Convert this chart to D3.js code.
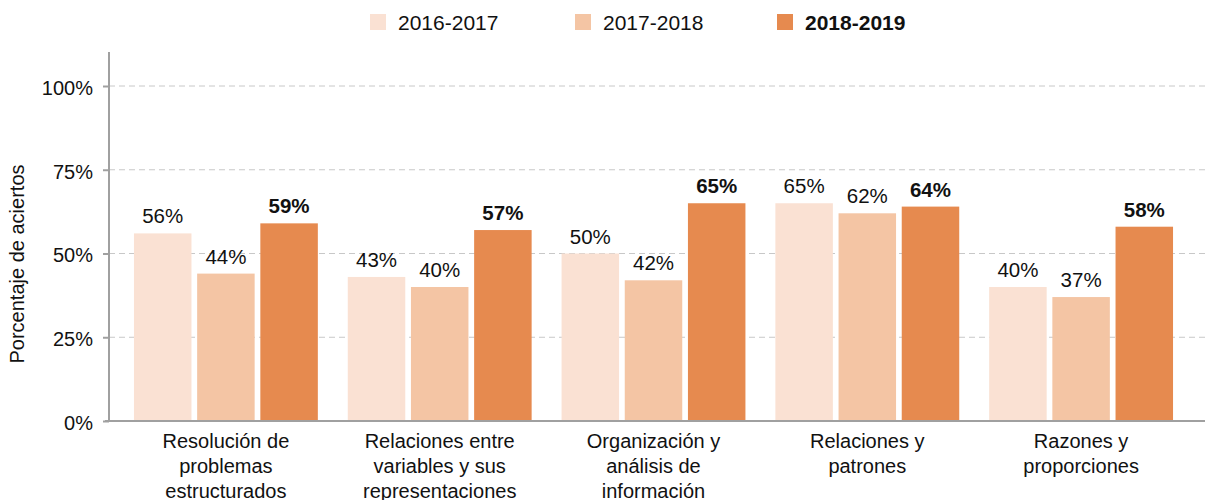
<!DOCTYPE html>
<html>
<head>
<meta charset="utf-8">
<script src="https://cdn.jsdelivr.net/npm/d3@7"></script>
<style>
  body { margin: 0; background: #fff; }
  text { font-family: "Liberation Sans", Arial, sans-serif; fill: #111; }
</style>
</head>
<body>
<div id="chart"></div>
<script>
var categories = [
    ['Resolución de', 'problemas', 'estructurados'],
    ['Relaciones entre', 'variables y sus', 'representaciones'],
    ['Organización y', 'análisis de', 'información'],
    ['Relaciones y', 'patrones'],
    ['Razones y', 'proporciones']
];
var series_names = ['2016-2017', '2017-2018', '2018-2019'];
var values_2016 = [56, 43, 50, 65, 40];
var values_2017 = [44, 40, 42, 62, 37];
var values_2018 = [59, 57, 65, 64, 58];
var y_ticks = [0, 25, 50, 75, 100];

var colors = ['#fae1d3', '#f4c5a4', '#e68a4f'];
var all_values = [values_2016, values_2017, values_2018];

var width = 1208, height = 500;
var axis_x = 109, axis_y = 421;

var svg = d3.select('#chart').append('svg')
    .attr('width', width)
    .attr('height', height);

// scales
var y_scale = d3.scaleLinear().domain([0, 110]).range([axis_y, axis_y - 368.5]);

var x0 = d3.scaleBand()
    .domain(d3.range(categories.length))
    .range([119, 1188])
    .paddingInner(0.14)
    .paddingOuter(0.07);

var x1 = d3.scaleBand()
    .domain(d3.range(series_names.length))
    .range([0, x0.bandwidth()])
    .paddingInner(0.09);

// grid
svg.append('g').selectAll('line')
    .data(y_ticks.filter(function(d) { return d > 0; }))
    .enter().append('line')
    .attr('x1', axis_x).attr('x2', 1205)
    .attr('y1', function(d) { return y_scale(d); })
    .attr('y2', function(d) { return y_scale(d); })
    .attr('stroke', '#c8c8c8')
    .attr('stroke-width', 1)
    .attr('stroke-dasharray', '6,4');

// bars
var groups = svg.selectAll('g.series')
    .data(all_values)
    .enter().append('g')
    .attr('class', 'series')
    .style('fill', function(d, i) { return colors[i]; });

groups.selectAll('rect')
    .data(function(d, i) { return d.map(function(v, j) { return {s: i, c: j, v: v}; }); })
    .enter().append('rect')
    .attr('x', function(d) { return x0(d.c) + x1(d.s); })
    .attr('y', function(d) { return y_scale(d.v); })
    .attr('width', x1.bandwidth())
    .attr('height', function(d) { return axis_y - y_scale(d.v); });

// value labels
groups.selectAll('text')
    .data(function(d, i) { return d.map(function(v, j) { return {s: i, c: j, v: v}; }); })
    .enter().append('text')
    .attr('x', function(d) { return x0(d.c) + x1(d.s) + x1.bandwidth() / 2; })
    .attr('y', function(d) { return y_scale(d.v) - 10; })
    .attr('text-anchor', 'middle')
    .style('font-size', '20.5px')
    .style('font-weight', function(d) { return d.s === 2 ? 'bold' : 'normal'; })
    .style('fill', '#111')
    .text(function(d) { return d.v + '%'; });

// y axis
var y_axis = d3.axisLeft(y_scale)
    .tickValues(y_ticks)
    .tickSize(6)
    .tickPadding(10)
    .tickFormat(function(d) { return d + '%'; });

var yg = svg.append('g')
    .attr('transform', 'translate(' + axis_x + ',0)')
    .call(y_axis);
yg.select('.domain').remove();
yg.selectAll('.tick line').attr('stroke', '#a0a0a0').attr('stroke-width', 2);
yg.selectAll('.tick text')
    .attr('dy', '0.42em')
    .attr('fill', '#111')
    .style('font-size', '20px')
    .style('font-family', '"Liberation Sans", Arial, sans-serif');

svg.append('line')
    .attr('x1', axis_x).attr('x2', axis_x)
    .attr('y1', 52).attr('y2', axis_y + 1)
    .attr('stroke', '#a0a0a0').attr('stroke-width', 2);

svg.append('line')
    .attr('x1', axis_x - 4).attr('x2', 1205)
    .attr('y1', axis_y).attr('y2', axis_y)
    .attr('stroke', '#a0a0a0').attr('stroke-width', 2);

// category labels
var cat = svg.selectAll('text.cat')
    .data(categories)
    .enter().append('text')
    .attr('class', 'cat')
    .attr('text-anchor', 'middle')
    .style('font-size', '20px');

cat.selectAll('tspan')
    .data(function(d, i) { return d.map(function(t) { return {t: t, c: i}; }); })
    .enter().append('tspan')
    .attr('x', function(d) { return x0(d.c) + x0.bandwidth() / 2; })
    .attr('y', function(d, k) { return 448 + k * 25; })
    .text(function(d) { return d.t; });

// y title
svg.append('text')
    .attr('transform', 'translate(24,264) rotate(-90)')
    .attr('text-anchor', 'middle')
    .style('font-size', '20px')
    .text('Porcentaje de aciertos');

// legend
var legend_x = [370, 575, 777];
var legend = svg.selectAll('g.legend')
    .data(series_names)
    .enter().append('g')
    .attr('class', 'legend')
    .attr('transform', function(d, i) { return 'translate(' + legend_x[i] + ',14)'; });

legend.append('rect')
    .attr('width', 16).attr('height', 16)
    .style('fill', function(d, i) { return colors[i]; });

legend.append('text')
    .attr('x', 28).attr('y', 16)
    .style('font-size', '21px')
    .style('font-weight', function(d, i) { return i === 2 ? 'bold' : 'normal'; })
    .text(function(d) { return d; });
</script>
</body>
</html>
